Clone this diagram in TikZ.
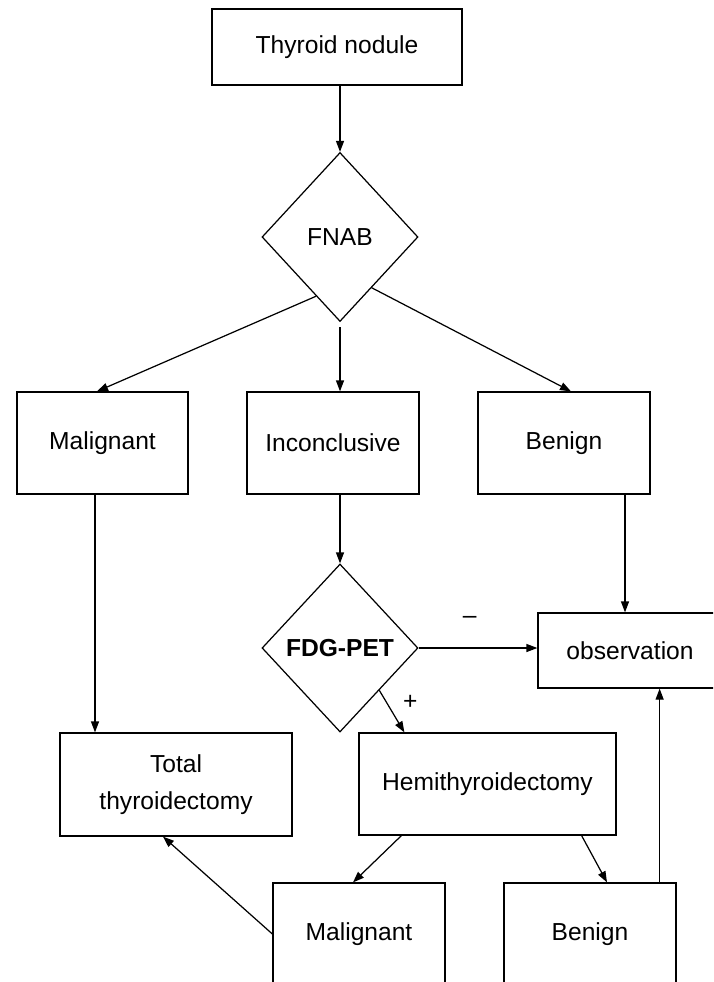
\documentclass[tikz,border=0pt]{standalone}
\usepackage{fontspec}
\setmainfont{Liberation Sans}
\usetikzlibrary{shapes.geometric,arrows.meta,calc}

\tikzset{
    box/.style={draw, rectangle, inner sep=2pt, align=center, minimum width=3.44cm, minimum height=2.04cm},
    decision/.style={draw, diamond, inner sep=0pt, minimum width=3.12cm, minimum height=3.38cm},
    flow/.style={-{Triangle[length=2.2mm, width=1.6mm]}},
}

\begin{document}
\begin{tikzpicture}[line width=0.7pt, font=\fontsize{14}{21}\selectfont]
    \useasboundingbox (0,0) rectangle (14.26,-19.64);
    \clip (0,0) rectangle (14.26,-19.64);

    % Nodule and first test
    \node[box, minimum width=5cm, minimum height=1.52cm] (nodule) at (6.74,-0.94) {Thyroid nodule};
    \node[decision] (fnab) at (6.8,-4.74) {FNAB};

    % Cytology results
    \node[box, minimum width=3.42cm] (malig) at (2.05,-8.86) {Malignant};
    \node[box] (incon) at (6.66,-8.86) {Inconclusive};
    \node[box] (benign) at (11.28,-8.86) {Benign};

    % Second test and outcomes
    \node[decision, minimum height=3.36cm] (pet) at (6.8,-12.96) {\textbf{FDG-PET}};
    \node[box, minimum width=3.68cm, minimum height=1.5cm] (obs) at (12.6,-13.01) {observation};
    \node[box, minimum width=4.64cm, minimum height=2.06cm] (total) at (3.52,-15.69) {Total\\thyroidectomy};
    \node[box, minimum width=5.14cm] (hemi) at (9.75,-15.68) {Hemithyroidectomy};

    % Histology after hemithyroidectomy
    \node[box] (malig2) at (7.18,-18.68) {Malignant};
    \node[box] (benign2) at (11.8,-18.68) {Benign};

    % Connections
    \draw[flow] (fnab.north |- nodule.south) -- (fnab.north);
    \draw[flow] (fnab.-112) -- ([xshift=-0.11cm]malig.north);
    \draw[flow] ([yshift=-0.1cm]fnab.south) -- (fnab.south |- incon.north);
    \draw[flow] (fnab.-58) -- ([xshift=0.14cm]benign.north);

    \draw[flow] ([xshift=-0.15cm]malig.south) -- ([xshift=-0.15cm]malig.south |- total.north);
    \draw[flow] (pet.north |- incon.south) -- (pet.north);
    \coordinate (watch) at ([xshift=-0.1cm]obs.north);
    \draw[flow] (watch |- benign.south) -- (watch);

    % FDG-PET result
    \draw[flow] (pet.east) -- (pet.east -| obs.west) node[pos=0.43, yshift=0.56cm] {--};
    \draw[flow] (pet.south east) -- ($(hemi.north west)+(0.92,0)$) node[pos=0.28, xshift=0.48cm] {+};

    % After surgery
    \draw[flow] ($(hemi.south west)+(0.86,0)$) -- ([xshift=-0.12cm]malig2.north);
    \draw[flow] ($(hemi.south east)+(-0.7,0)$) -- ([xshift=0.34cm]benign2.north);
    \draw[flow] (malig2.west) -- ([xshift=-0.26cm]total.south);
    \coordinate (back) at ($(benign2.north east)+(-0.34,0)$);
    \draw[flow] (back) -- (back |- obs.south);
\end{tikzpicture}
\end{document}
